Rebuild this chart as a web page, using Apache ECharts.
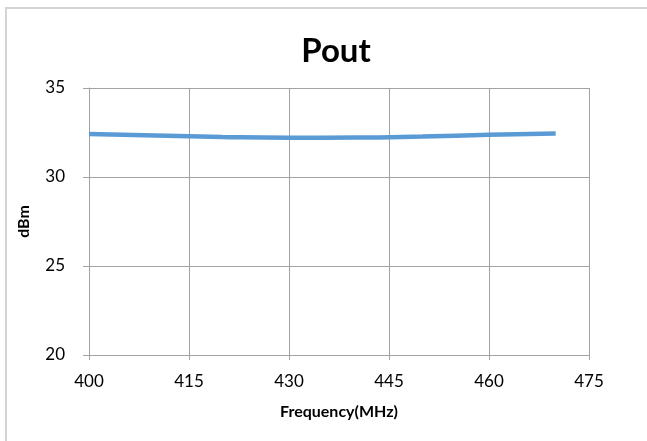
<!doctype html>
<html lang="en">
<head>
	<meta charset="UTF-8">
	<title>Pout</title>
	<script src="https://cdn.jsdelivr.net/npm/echarts@6/dist/echarts.min.js"></script>
	<style>
		html, body { margin: 0; padding: 0; background: #fff; }
		#frame { position: absolute; left: 5px; top: 7px; width: 700px; height: 500px; border: 2px solid #d4d4d4; box-sizing: border-box; }
		#main { position: absolute; left: 0; top: 0; width: 647px; height: 441px; }
	</style>
</head>
<body>
<div id="frame"></div>
<div id="main"></div>
<script type="text/javascript">
	// frequency (MHz) and output power (dBm)
	var freq = [400, 410, 420, 430, 440, 450, 460, 470];
	var pout = [32.42, 32.33, 32.25, 32.21, 32.22, 32.28, 32.37, 32.45];

	var font = 'Lato, "Open Sans", sans-serif';
	var gridColor = '#a3a3a3';

	var myChart = echarts.init(document.getElementById('main'));

	var points = [];
	for (var i = 0; i < freq.length; i++) {
		points.push([freq[i], pout[i]]);
	}

	var option = {
		animation: false,
		title: {
			text: 'Pout',
			left: 331,
			top: 30,
			textAlign: 'center',
			textStyle: { fontFamily: font, fontSize: 33, fontWeight: 'bold', color: '#000' }
		},
		grid: { left: 89, right: 58, top: 88, bottom: 86 },
		xAxis: {
			type: 'value',
			min: 400,
			max: 475,
			interval: 15,
			name: 'Frequency(MHz)',
			nameLocation: 'middle',
			nameGap: 49,
			nameTextStyle: { fontFamily: font, fontSize: 16, fontWeight: 'bold', color: '#000' },
			axisLine: { lineStyle: { color: gridColor } },
			axisTick: { length: 5, lineStyle: { color: gridColor } },
			axisLabel: { fontFamily: font, fontSize: 17, color: '#000', margin: 18 },
			splitLine: { show: true, lineStyle: { color: gridColor, width: 1 } }
		},
		yAxis: {
			type: 'value',
			min: 20,
			max: 35,
			interval: 5,
			name: 'dBm',
			nameLocation: 'middle',
			nameGap: 57,
			nameTextStyle: { fontFamily: font, fontSize: 16, fontWeight: 'bold', color: '#000' },
			axisLine: { show: true, lineStyle: { color: gridColor } },
			axisTick: { show: true, length: 6, lineStyle: { color: gridColor } },
			axisLabel: { fontFamily: font, fontSize: 17, color: '#000', margin: 24 },
			splitLine: { show: true, lineStyle: { color: gridColor, width: 1 } }
		},
		series: [{
			name: 'Pout',
			type: 'line',
			smooth: true,
			showSymbol: false,
			lineStyle: { color: '#5b9bd5', width: 4.5 },
			data: points
		}]
	};

	myChart.setOption(option);
</script>
</body>
</html>
